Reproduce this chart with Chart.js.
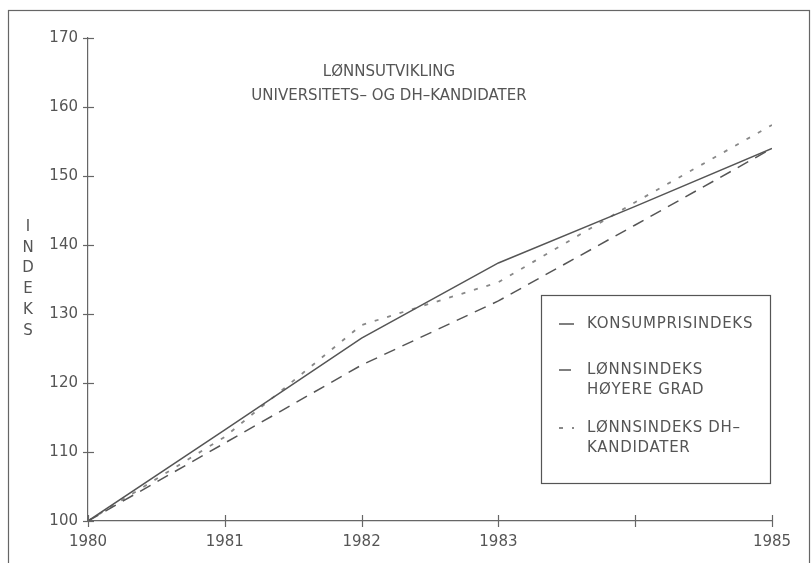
<!DOCTYPE html>
<html>
<head>
<meta charset="utf-8">
<script src="https://cdn.jsdelivr.net/npm/chart.js@4.4.0/dist/chart.umd.min.js"></script>
<style>
html,body{margin:0;padding:0;background:#fff;}
#wrap{position:relative;width:812px;height:563px;}
</style>
</head>
<body>
<div id="wrap"><canvas id="c" width="812" height="563"></canvas></div>
<script>
// ---- data ----
const years = [1980, 1981, 1982, 1983, 1984, 1985];
const xTickLabels = ['1980', '1981', '1982', '1983', '', '1985'];
const yTicks = [100, 110, 120, 130, 140, 150, 160, 170];
const konsumpris = [100, 113.2, 126.5, 137.4, 145.6, 154.0];
const hoyereGrad = [100, 111.3, 122.6, 131.9, 142.9, 154.0];
const dhKandidater = [100, 112.2, 128.4, 134.6, 146.2, 157.4];
const seriesLabels = [['KONSUMPRISINDEKS'], ['LØNNSINDEKS', 'HØYERE GRAD'], ['LØNNSINDEKS DH–', 'KANDIDATER']];
const titleLines = ['LØNNSUTVIKLING', 'UNIVERSITETS– OG DH–KANDIDATER'];
const yTitle = 'INDEKS';

const FONT = '"DejaVu Sans", sans-serif';
const TXT = '#555';

function pts(arr){ return years.map((y,i)=>({x:y, y:arr[i]})); }

const decorPlugin = {
  id: 'decor',
  beforeDraw(chart){
    const ctx = chart.ctx;
    ctx.save();
    ctx.fillStyle = '#fff';
    ctx.fillRect(0,0,chart.width,chart.height);
    ctx.strokeStyle = '#666';
    ctx.lineWidth = 1.2;
    ctx.strokeRect(8.5, 10.5, 801, 600);
    ctx.restore();
  },
  afterDraw(chart){
    const ctx = chart.ctx;
    const xs = chart.scales.x, ys = chart.scales.y;
    const a = chart.chartArea;
    ctx.save();
    // tick marks crossing axes
    ctx.strokeStyle = '#666';
    ctx.lineWidth = 1.2;
    yTicks.forEach(v=>{
      const py = Math.round(ys.getPixelForValue(v))+0.5;
      ctx.beginPath(); ctx.moveTo(a.left-5, py); ctx.lineTo(a.left+6, py); ctx.stroke();
    });
    years.forEach(v=>{
      const px = Math.round(xs.getPixelForValue(v))+0.5;
      ctx.beginPath(); ctx.moveTo(px, a.bottom-6); ctx.lineTo(px, a.bottom+6); ctx.stroke();
    });
    // title
    ctx.fillStyle = TXT;
    ctx.font = '15px ' + FONT;
    ctx.textAlign = 'center';
    ctx.textBaseline = 'middle';
    titleLines.forEach((t,i)=> ctx.fillText(t, 389, 72 + i*24));
    // y title stacked letters
    [...yTitle].forEach((ch,i)=> ctx.fillText(ch, 28, 227 + i*20.8));
    // legend box
    ctx.strokeStyle = '#555';
    ctx.lineWidth = 1.2;
    ctx.strokeRect(541.5, 295.5, 229, 188);
    const rows = [324, 370, 428];
    chart.data.datasets.forEach((ds,i)=>{
      const y = rows[i];
      ctx.save();
      ctx.strokeStyle = ds.borderColor;
      ctx.lineWidth = ds.borderWidth;
      ctx.setLineDash(ds.borderDash || []);
      ctx.beginPath(); ctx.moveTo(559, y); ctx.lineTo(574, y); ctx.stroke();
      ctx.restore();
      ctx.fillStyle = TXT;
      ctx.font = '15px ' + FONT;
      ctx.letterSpacing = '0.7px';
      ctx.textAlign = 'left';
      ctx.textBaseline = 'middle';
      seriesLabels[i].forEach((l,j)=> ctx.fillText(l, 587, y + j*20));
      ctx.letterSpacing = '0px';
    });
    ctx.restore();
  }
};

new Chart(document.getElementById('c'), {
  type: 'line',
  data: {
    datasets: [
      { label: seriesLabels[0].join(' '), data: pts(konsumpris), borderColor: '#555', borderWidth: 1.5, borderDash: [], pointRadius: 0, tension: 0 },
      { label: seriesLabels[1].join(' '), data: pts(hoyereGrad), borderColor: '#555', borderWidth: 1.5, borderDash: [12, 8], pointRadius: 0, tension: 0 },
      { label: seriesLabels[2].join(' '), data: pts(dhKandidater), borderColor: '#888', borderWidth: 1.8, borderDash: [4, 9], pointRadius: 0, tension: 0 }
    ]
  },
  options: {
    responsive: false,
    animation: false,
    layout: { padding: { left: 0, right: 40, top: 38, bottom: 0 } },
    plugins: { legend: { display: false }, tooltip: { enabled: false }, title: { display: false } },
    scales: {
      x: {
        type: 'linear', min: 1980, max: 1985,
        afterFit(s){ s.height = 42; },
        afterBuildTicks(s){ s.ticks = years.map(v=>({value:v})); },
        grid: { display: false, drawTicks: false },
        border: { display: true, color: '#666', width: 1.2 },
        ticks: { padding: 12, color: TXT, font: { family: FONT, size: 15 }, maxRotation: 0, autoSkip: false,
          callback: (v)=> xTickLabels[years.indexOf(v)] ?? '' }
      },
      y: {
        min: 100, max: 170,
        afterFit(s){ s.width = 88; },
        afterBuildTicks(s){ s.ticks = yTicks.map(v=>({value:v})); },
        grid: { display: false, drawTicks: false },
        border: { display: true, color: '#666', width: 1.2 },
        ticks: { padding: 10, color: TXT, font: { family: FONT, size: 15 }, callback: (v)=> String(v) }
      }
    }
  },
  plugins: [decorPlugin]
});
</script>
</body>
</html>
